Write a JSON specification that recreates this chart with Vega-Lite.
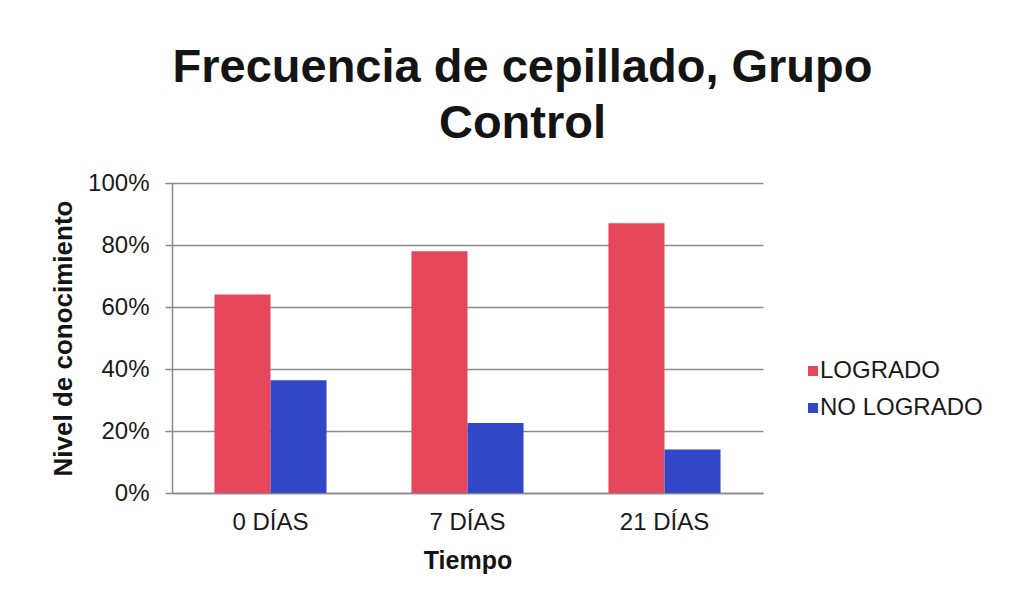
{
  "$schema": "https://vega.github.io/schema/vega-lite/v6.json",
  "autosize": {"type": "none"},
  "width": 591,
  "height": 310,
  "padding": {"left": 172, "top": 183, "right": 265, "bottom": 119},
  "background": "white",
  "title": {
    "text": ["Frecuencia de cepillado, Grupo", "Control"],
    "font": "Liberation Sans",
    "fontSize": 47,
    "fontWeight": "bold",
    "color": "#141414",
    "lineHeight": 56,
    "anchor": "middle",
    "dx": 55,
    "offset": 23
  },
  "data": {
    "values": [
      {"tiempo": "0 DÍAS", "nivel": "LOGRADO", "valor": 0.64},
      {"tiempo": "0 DÍAS", "nivel": "NO LOGRADO", "valor": 0.364},
      {"tiempo": "7 DÍAS", "nivel": "LOGRADO", "valor": 0.78},
      {"tiempo": "7 DÍAS", "nivel": "NO LOGRADO", "valor": 0.226},
      {"tiempo": "21 DÍAS", "nivel": "LOGRADO", "valor": 0.87},
      {"tiempo": "21 DÍAS", "nivel": "NO LOGRADO", "valor": 0.14}
    ]
  },
  "mark": {"type": "bar"},
  "encoding": {
    "x": {
      "field": "tiempo",
      "type": "nominal",
      "sort": ["0 DÍAS", "7 DÍAS", "21 DÍAS"],
      "scale": {"paddingInner": 0.431, "paddingOuter": 0.2155},
      "axis": {
        "title": "Tiempo",
        "labelAngle": 0,
        "labelFont": "Liberation Sans",
        "labelFontSize": 24,
        "labelColor": "#1a1a1a",
        "labelPadding": 17,
        "ticks": false,
        "domain": true,
        "domainColor": "#8a8a8a",
        "domainWidth": 1.5,
        "titleFont": "Liberation Sans",
        "titleFontSize": 25,
        "titleFontWeight": "bold",
        "titleColor": "#141414",
        "titlePadding": 14
      }
    },
    "xOffset": {
      "field": "nivel",
      "type": "nominal",
      "sort": ["LOGRADO", "NO LOGRADO"],
      "scale": {"paddingInner": 0, "paddingOuter": 0}
    },
    "y": {
      "field": "valor",
      "type": "quantitative",
      "scale": {"domain": [0, 1], "nice": false},
      "axis": {
        "title": "Nivel de conocimiento",
        "format": ".0%",
        "values": [0, 0.2, 0.4, 0.6, 0.8, 1],
        "labelFont": "Liberation Sans",
        "labelFontSize": 24,
        "labelColor": "#1a1a1a",
        "labelPadding": 16,
        "tickSize": 7,
        "tickColor": "#8a8a8a",
        "tickWidth": 1.5,
        "grid": true,
        "gridColor": "#8a8a8a",
        "gridWidth": 1.5,
        "domain": true,
        "domainColor": "#8a8a8a",
        "domainWidth": 1.5,
        "titleFont": "Liberation Sans",
        "titleFontSize": 26,
        "titleFontWeight": "bold",
        "titleColor": "#141414",
        "titlePadding": 11
      }
    },
    "color": {
      "field": "nivel",
      "type": "nominal",
      "sort": ["LOGRADO", "NO LOGRADO"],
      "scale": {"domain": ["LOGRADO", "NO LOGRADO"], "range": ["#e5465a", "#3246c8"]},
      "legend": {
        "title": null,
        "orient": "none",
        "legendX": 629,
        "legendY": 176,
        "symbolType": "square",
        "symbolSize": 100,
        "symbolStrokeWidth": 0,
        "labelFont": "Liberation Sans",
        "labelFontSize": 24,
        "labelColor": "#1a1a1a",
        "labelOffset": -5,
        "labelLimit": 300,
        "rowPadding": 13
      }
    }
  },
  "config": {
    "view": {"stroke": null},
    "axis": {"gridOpacity": 1}
  }
}
